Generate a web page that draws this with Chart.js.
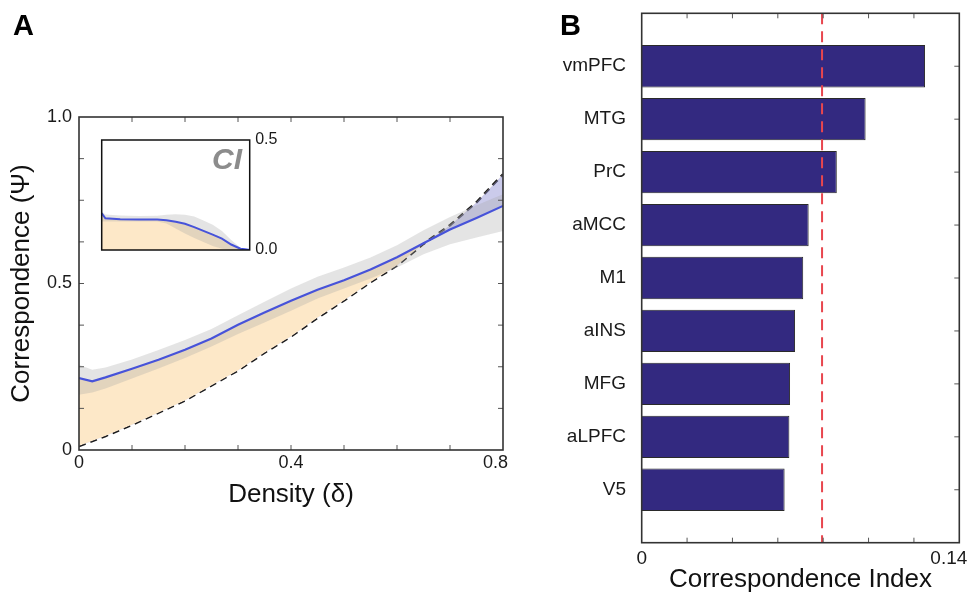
<!DOCTYPE html>
<html>
<head>
<meta charset="utf-8">
<script src="https://cdn.jsdelivr.net/npm/chart.js@4.4.1/dist/chart.umd.min.js"></script>
<style>
  html, body { margin:0; padding:0; background:#fff; width:971px; height:598px; overflow:hidden; }
  canvas { position:absolute; }
  #ca { left:0; top:0; }
  #ci { left:90px; top:128px; }
  #cb { left:540px; top:0; }
  .panel { position:absolute; font:bold 29px 'Liberation Sans', Arial, sans-serif; line-height:1; color:#000; }
  .cilabel { position:absolute; left:170px; top:144px; width:72px; text-align:right;
             font:italic bold 30px 'Liberation Sans', Arial, sans-serif; line-height:1; color:#8c8c8c; }
</style>
</head>
<body>
<canvas id="ca" width="540" height="598"></canvas>
<canvas id="ci" width="200" height="135"></canvas>
<canvas id="cb" width="431" height="598"></canvas>
<div class="panel" style="left:13px;top:11px;">A</div>
<div class="panel" style="left:560px;top:11px;">B</div>
<div class="cilabel">CI</div>
<script>
// ---------- Panel A data ----------
const density      = [0, 0.025, 0.05, 0.1, 0.15, 0.2, 0.25, 0.3, 0.35, 0.4, 0.45, 0.5, 0.55, 0.6, 0.65, 0.7, 0.75, 0.8];
const psiObserved  = [0.216, 0.206, 0.218, 0.244, 0.271, 0.301, 0.335, 0.376, 0.413, 0.448, 0.481, 0.510, 0.542, 0.579, 0.621, 0.662, 0.697, 0.733];
const psiUpper     = [0.256, 0.241, 0.248, 0.272, 0.300, 0.330, 0.363, 0.405, 0.445, 0.485, 0.520, 0.548, 0.578, 0.615, 0.660, 0.700, 0.735, 0.768];
const psiLower     = [0.166, 0.173, 0.185, 0.215, 0.245, 0.276, 0.311, 0.348, 0.383, 0.418, 0.455, 0.485, 0.515, 0.548, 0.588, 0.618, 0.638, 0.658];
const psiNull      = [0.012, 0.027, 0.042, 0.076, 0.112, 0.149, 0.194, 0.239, 0.292, 0.341, 0.397, 0.449, 0.504, 0.554, 0.619, 0.675, 0.744, 0.828];

// inset (CI) data
const insetDensity = [0, 0.02, 0.1, 0.2, 0.3, 0.35, 0.4, 0.45, 0.5, 0.55, 0.6, 0.65, 0.7, 0.75, 0.8];
const ciValue      = [0.167, 0.144, 0.140, 0.139, 0.139, 0.135, 0.128, 0.119, 0.104, 0.087, 0.070, 0.052, 0.025, 0.006, 0];
const ciUpper      = [0.176, 0.161, 0.157, 0.155, 0.156, 0.160, 0.163, 0.160, 0.152, 0.134, 0.115, 0.086, 0.046, 0.010, 0];
const ciLower      = [0.129, 0.129, 0.129, 0.129, 0.129, 0.120, 0.098, 0.075, 0.055, 0.036, 0.018, 0.006, 0, 0, 0];

// tick labels
const xTickValsA = [0, 0.4, 0.8];
const xTickTextA = ['0', '0.4', '0.8'];
const yTickValsA = [0, 0.5, 1.0];
const yTickTextA = ['0', '0.5', '1.0'];
const yTickValsInset = [0, 0.5];
const yTickTextInset = ['0.0', '0.5'];
const xMinorA = [0.1, 0.2, 0.3, 0.4, 0.5, 0.6, 0.7];
const yMinorA = [0.125, 0.25, 0.375, 0.5, 0.625, 0.75, 0.875];

// ---------- Panel B data ----------
const regions   = ['vmPFC', 'MTG', 'PrC', 'aMCC', 'M1', 'aINS', 'MFG', 'aLPFC', 'V5'];
const corrIndex = [0.1249, 0.0987, 0.0860, 0.0736, 0.0712, 0.0676, 0.0654, 0.0651, 0.0630];
const threshold = 0.0795;
const xTickValsB = [0, 0.14];
const xTickTextB = ['0', '0.14'];
const xMinorB = [0.02, 0.04, 0.06, 0.08, 0.10, 0.12];

const FONT = "'Liberation Sans', Arial, sans-serif";
const pts = (xs, ys) => xs.map((x, i) => ({ x, y: ys[i] }));

// ---------- plugin: frame, inward ticks, x labels, reference line ----------
const frameTicks = {
  id: 'frameTicks',
  afterDatasetsDraw(chart, args, o) {
    const { ctx, chartArea: a, scales } = chart;
    const x = scales.x, y = scales.y;
    ctx.save();
    if (o.refLine) {
      const p = x.getPixelForValue(o.refLine.value);
      ctx.strokeStyle = o.refLine.color; ctx.lineWidth = o.refLine.width;
      ctx.setLineDash(o.refLine.dash);
      ctx.beginPath(); ctx.moveTo(p, a.top); ctx.lineTo(p, a.bottom); ctx.stroke();
      ctx.setLineDash([]);
    }
    const L = o.tickLen || 5;
    ctx.strokeStyle = o.tickColor || '#555'; ctx.lineWidth = 1;
    ctx.beginPath();
    (o.xTicks || []).forEach(v => {
      const p = x.getPixelForValue(v);
      if (o.bottom) { ctx.moveTo(p, a.bottom); ctx.lineTo(p, a.bottom - L); }
      if (o.top) { ctx.moveTo(p, a.top); ctx.lineTo(p, a.top + L); }
    });
    (o.yTicks || []).forEach(v => {
      const p = y.getPixelForValue(v);
      if (o.left) { ctx.moveTo(a.left, p); ctx.lineTo(a.left + L, p); }
      if (o.right) { ctx.moveTo(a.right, p); ctx.lineTo(a.right - L, p); }
    });
    ctx.stroke();
    ctx.strokeStyle = o.frameColor || '#333'; ctx.lineWidth = o.frameWidth || 1.5;
    ctx.strokeRect(a.left, a.top, a.right - a.left, a.bottom - a.top);
    if (o.xLabels) {
      const xl = o.xLabels;
      ctx.font = xl.size + 'px ' + FONT;
      ctx.fillStyle = '#1a1a1a';
      ctx.textBaseline = 'middle'; ctx.textAlign = 'left';
      xl.values.forEach((v, i) => {
        const t = xl.text[i];
        const w = ctx.measureText(t).width;
        let left = x.getPixelForValue(v) - w / 2;
        const maxRight = a.right + xl.overhang;
        if (left + w > maxRight) left = maxRight - w;
        ctx.fillText(t, left, xl.y);
      });
    }
    ctx.restore();
  }
};

// ---------- Chart A ----------
new Chart(document.getElementById('ca'), {
  type: 'line',
  data: {
    datasets: [
      { label: 'upper', data: pts(density, psiUpper), borderWidth: 0, pointRadius: 0, fill: 1,
        backgroundColor: 'rgba(165,165,165,0.3)' },
      { label: 'lower', data: pts(density, psiLower), borderWidth: 0, pointRadius: 0, fill: false },
      { label: 'observed', data: pts(density, psiObserved), borderColor: '#1f30f0', borderWidth: 2.2,
        pointRadius: 0, fill: { target: 3, above: '#fde8c8', below: 'rgba(140,140,210,0.45)' } },
      { label: 'null', data: pts(density, psiNull), borderColor: '#1a1a1a', borderWidth: 2.5,
        borderDash: [7, 5], pointRadius: 0, fill: false }
    ]
  },
  options: {
    responsive: false, animation: false, events: [],
    layout: { padding: { top: 117, right: 37, left: 0, bottom: 0 } },
    plugins: {
      legend: { display: false }, tooltip: { enabled: false },
      frameTicks: {
        xTicks: xMinorA, yTicks: yMinorA, top: true, bottom: true, left: true, right: true,
        tickLen: 5, tickColor: '#555', frameColor: '#333', frameWidth: 1.6,
        xLabels: { values: xTickValsA, text: xTickTextA, size: 18, y: 463.5, overhang: 5 }
      }
    },
    scales: {
      x: {
        type: 'linear', min: 0, max: 0.8,
        grid: { display: false, drawTicks: false }, border: { display: false },
        ticks: { display: false },
        title: { display: true, text: 'Density (δ)', color: '#111',
                 font: { family: FONT, size: 26 }, padding: { top: 0, bottom: 88 } },
        afterFit(s) { s.height = 148; s.paddingLeft = 0; s.paddingRight = 0; }
      },
      y: {
        min: 0, max: 1,
        grid: { display: false, drawTicks: false }, border: { display: false },
        afterBuildTicks(s) { s.ticks = yTickValsA.map(v => ({ value: v })); },
        ticks: { padding: 7, color: '#1a1a1a', font: { family: FONT, size: 18 },
                 callback: (v) => yTickTextA[yTickValsA.indexOf(v)] },
        title: { display: true, text: 'Correspondence (Ψ)', color: '#111',
                 font: { family: FONT, size: 26 }, padding: { top: 6, bottom: 0 } },
        afterFit(s) { s.width = 79; s.paddingTop = 0; s.paddingBottom = 0; }
      }
    }
  },
  plugins: [frameTicks]
});

// ---------- Inset ----------
new Chart(document.getElementById('ci'), {
  type: 'line',
  data: {
    datasets: [
      { label: 'upper', data: pts(insetDensity, ciUpper), borderWidth: 0, pointRadius: 0, fill: 1,
        backgroundColor: 'rgba(165,165,165,0.3)' },
      { label: 'lower', data: pts(insetDensity, ciLower), borderWidth: 0, pointRadius: 0, fill: false },
      { label: 'CI', data: pts(insetDensity, ciValue), borderColor: '#1f30f0', borderWidth: 2,
        pointRadius: 0, fill: { target: 'origin', above: '#fde8c8' } }
    ]
  },
  options: {
    responsive: false, animation: false, events: [],
    layout: { padding: { top: 12, right: 0, left: 11.7, bottom: 13 } },
    plugins: {
      legend: { display: false }, tooltip: { enabled: false },
      frameTicks: { frameColor: '#111', frameWidth: 1.5 }
    },
    scales: {
      x: { type: 'linear', min: 0, max: 0.8, display: false },
      y: {
        position: 'right', min: 0, max: 0.5,
        grid: { display: false, drawTicks: false }, border: { display: false },
        afterBuildTicks(s) { s.ticks = yTickValsInset.map(v => ({ value: v })); },
        ticks: { padding: 5.5, color: '#1a1a1a', font: { family: FONT, size: 16 },
                 callback: (v) => yTickTextInset[yTickValsInset.indexOf(v)] },
        afterFit(s) { s.width = 40.3; s.paddingTop = 0; s.paddingBottom = 0; }
      }
    }
  },
  plugins: [frameTicks]
});

// ---------- Chart B ----------
new Chart(document.getElementById('cb'), {
  type: 'bar',
  data: {
    labels: ['', ...regions, ''],
    datasets: [{
      data: [null, ...corrIndex, null],
      backgroundColor: '#332980', borderColor: '#2a2a2a', borderWidth: 1,
      barPercentage: 0.8, categoryPercentage: 1
    }]
  },
  options: {
    indexAxis: 'y', responsive: false, animation: false, events: [],
    layout: { padding: { top: 13.3, right: 11.7, left: 0, bottom: 0 } },
    plugins: {
      legend: { display: false }, tooltip: { enabled: false },
      frameTicks: {
        xTicks: xMinorB, yTicks: regions.map((r, i) => i + 1), top: true, bottom: true, right: true,
        tickLen: 5, tickColor: '#555', frameColor: '#333', frameWidth: 1.6,
        refLine: { value: threshold, color: '#e8464e', width: 2, dash: [11, 7] },
        xLabels: { values: xTickValsB, text: xTickTextB, size: 19, y: 558.5, overhang: 8 }
      }
    },
    scales: {
      x: {
        type: 'linear', min: 0, max: 0.14,
        grid: { display: false, drawTicks: false }, border: { display: false },
        ticks: { display: false },
        title: { display: true, text: 'Correspondence Index', color: '#111',
                 font: { family: FONT, size: 26 }, padding: { top: 0, bottom: 2.4 } },
        afterFit(s) { s.height = 55.3; s.paddingLeft = 0; s.paddingRight = 0; }
      },
      y: {
        type: 'category', offset: false,
        grid: { display: false, drawTicks: false }, border: { display: false },
        ticks: { padding: 15.7, color: '#1a1a1a', autoSkip: false, font: { family: FONT, size: 19 } },
        afterFit(s) { s.width = 101.7; s.paddingTop = 0; s.paddingBottom = 0; }
      }
    }
  },
  plugins: [frameTicks]
});
</script>
</body>
</html>
